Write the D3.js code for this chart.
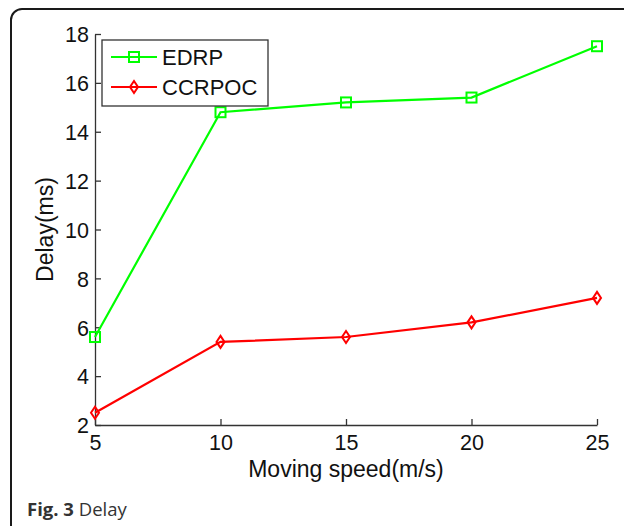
<!DOCTYPE html>
<html>
<head>
<meta charset="utf-8">
<title>Delay</title>
<script src="https://d3js.org/d3.v7.min.js"></script>
<style>
    body { margin: 0; overflow: hidden; background: #fff; }
    svg text { font-family: "Liberation Sans", Arial, sans-serif; }
</style>
</head>
<body>
<svg></svg>
<script>
    // data
    const speeds = [5, 10, 15, 20, 25];
    const edrp = [5.6, 14.8, 15.2, 15.4, 17.5];
    const ccrpoc = [2.5, 5.4, 5.6, 6.2, 7.2];
    const yTicks = [2, 4, 6, 8, 10, 12, 14, 16, 18];
    const xTicks = [5, 10, 15, 20, 25];
    const seriesNames = ["EDRP", "CCRPOC"];

    const width = 624, height = 526;
    const svg = d3.select("svg").attr("width", width).attr("height", height);

    // panel frame (rounded, cut off at right and bottom)
    svg.append("rect")
        .attr("x", 11).attr("y", 9)
        .attr("width", 700).attr("height", 530)
        .attr("rx", 11).attr("ry", 11)
        .attr("fill", "none").attr("stroke", "#1a1a1a").attr("stroke-width", 2);

    const x = d3.scaleLinear().domain([5, 25]).range([95, 597]);
    const y = d3.scaleLinear().domain([2, 18]).range([425, 34]);

    const xAxis = svg.append("g")
        .attr("transform", `translate(0,${y(2)})`)
        .call(d3.axisBottom(x).tickValues(xTicks).tickSizeInner(-6).tickSizeOuter(0).tickPadding(10));
    const yAxis = svg.append("g")
        .attr("transform", `translate(${x(5)},0)`)
        .call(d3.axisLeft(y).tickValues(yTicks).tickSizeInner(-6).tickSizeOuter(0).tickPadding(6));

    [xAxis, yAxis].forEach(a => {
        a.select(".domain").attr("stroke", "#333").attr("stroke-width", 1.3);
        a.selectAll(".tick line").attr("stroke", "#333").attr("stroke-width", 1.3);
        a.selectAll(".tick text").attr("fill", "#111").style("font-size", "21.5px")
            .style("font-family", "'Liberation Sans', Arial, sans-serif");
    });
    xAxis.selectAll(".tick text").attr("dy", "0.72em");
    yAxis.selectAll(".tick text").attr("dy", "0.36em");

    // axis titles
    svg.append("text")
        .attr("x", (x(5) + x(25)) / 2).attr("y", 477)
        .attr("text-anchor", "middle")
        .style("font-size", "23px").attr("fill", "#111")
        .text("Moving speed(m/s)");
    svg.append("text")
        .attr("transform", `translate(53,${(y(2) + y(18)) / 2}) rotate(-90)`)
        .attr("text-anchor", "middle")
        .style("font-size", "23px").attr("fill", "#111")
        .text("Delay(ms)");

    const line = d3.line().x((d, i) => x(speeds[i])).y(d => y(d));

    function square(g, cx, cy, color) {
        g.append("rect")
            .attr("x", cx - 5).attr("y", cy - 5)
            .attr("width", 10).attr("height", 10)
            .attr("fill", "none").attr("stroke", color).attr("stroke-width", 2);
    }
    function diamond(g, cx, cy, color) {
        g.append("path")
            .attr("d", `M${cx},${cy - 6}L${cx + 4},${cy}L${cx},${cy + 6}L${cx - 4},${cy}Z`)
            .attr("fill", "none").attr("stroke", color).attr("stroke-width", 2);
    }

    const series = [
        { name: seriesNames[0], values: edrp, color: "#00ff00", marker: square },
        { name: seriesNames[1], values: ccrpoc, color: "#ff0000", marker: diamond }
    ];

    series.forEach(s => {
        const g = svg.append("g");
        g.append("path")
            .attr("d", line(s.values))
            .attr("fill", "none").attr("stroke", s.color).attr("stroke-width", 2.2);
        s.values.forEach((v, i) => s.marker(g, x(speeds[i]), y(v), s.color));
    });

    // legend
    const legend = svg.append("g");
    legend.append("rect")
        .attr("x", 102).attr("y", 40).attr("width", 166).attr("height", 66)
        .attr("fill", "#fff").attr("stroke", "#333").attr("stroke-width", 1.3);
    series.forEach((s, i) => {
        const cy = 57 + i * 30;
        legend.append("line")
            .attr("x1", 111).attr("x2", 157).attr("y1", cy).attr("y2", cy)
            .attr("stroke", s.color).attr("stroke-width", 2.2);
        s.marker(legend, 134, cy, s.color);
        legend.append("text")
            .attr("x", 162).attr("y", cy + 8)
            .style("font-size", "22px").attr("fill", "#111")
            .text(s.name);
    });

    // caption
    const cap = svg.append("text")
        .attr("x", 27).attr("y", 516)
        .style("font-family", "'Open Sans', 'Noto Sans', sans-serif")
        .style("font-size", "18.5px").attr("fill", "#333");
    cap.append("tspan").attr("font-weight", "bold").text("Fig. 3");
    cap.append("tspan").text(" Delay");
</script>
</body>
</html>
